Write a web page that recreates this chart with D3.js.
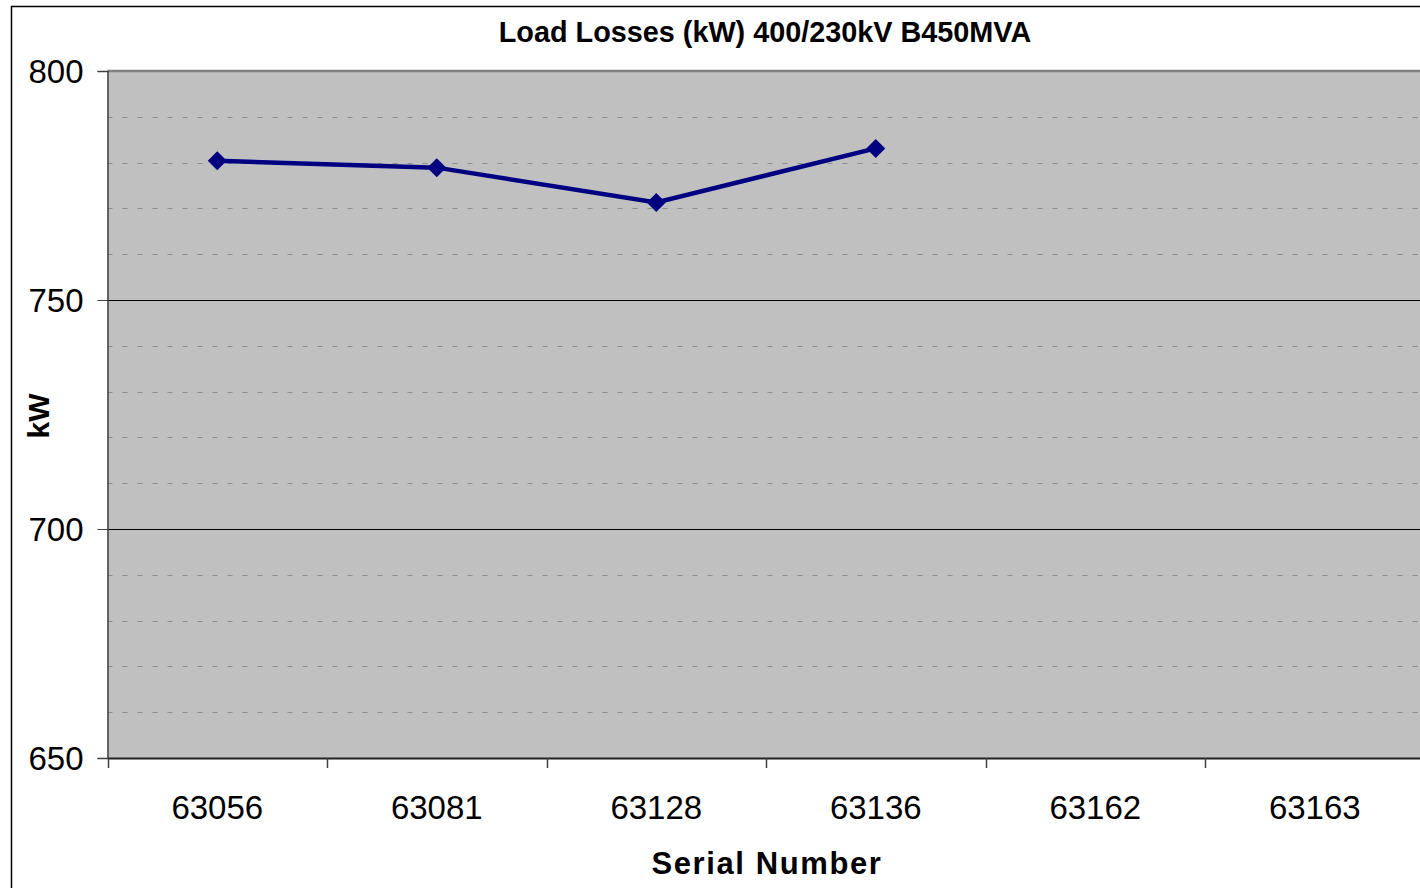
<!DOCTYPE html>
<html lang="en">
<head>
    <meta charset="UTF-8">
    <title>Load Losses</title>
    <script src="https://d3js.org/d3.v7.min.js"></script>
    <style>
        body {
            margin: 0;
            padding: 0;
            background-color: #ffffff;
            font-family: "Liberation Sans", Arial, sans-serif;
        }
        .title {
            font-size: 28.8px;
            font-weight: bold;
            text-anchor: middle;
        }
        .axis-label {
            font-size: 31px;
            font-weight: bold;
            text-anchor: middle;
        }
        .tick text {
            font-family: "Liberation Sans", Arial, sans-serif;
            font-size: 33px;
            fill: #000;
        }
    </style>
</head>
<body>
    <div id="chart"></div>
    <script>
        // Chart data
        const serials = ["63056", "63081", "63128", "63136", "63162", "63163"];
        const lossesKW = [780.4, 778.9, 771.3, 783.1, null, null];
        const yTicks = [650, 700, 750, 800];
        const yMinorTicks = [660, 670, 680, 690, 710, 720, 730, 740, 760, 770, 780, 790];

        const width = 1420;
        const height = 888;
        const plot = { left: 107.5, top: 71, right: 1424.5, bottom: 758 };

        const svg = d3.select("#chart")
            .append("svg")
            .attr("width", width)
            .attr("height", height);

        // outer chart border
        svg.append("rect")
            .attr("x", 11.5)
            .attr("y", 6.5)
            .attr("width", width + 10)
            .attr("height", height + 10)
            .attr("fill", "none")
            .attr("stroke", "#000")
            .attr("stroke-width", 1.5);

        const x = d3.scaleBand().domain(serials).range([plot.left, plot.right]);
        const y = d3.scaleLinear().domain([650, 800]).range([plot.bottom, plot.top]);

        // plot background
        svg.append("rect")
            .attr("x", plot.left)
            .attr("y", plot.top)
            .attr("width", plot.right - plot.left)
            .attr("height", plot.bottom - plot.top)
            .attr("fill", "#c0c0c0");

        // minor dashed grid
        svg.append("g")
            .selectAll("line")
            .data(yMinorTicks)
            .join("line")
            .attr("x1", plot.left)
            .attr("x2", plot.right)
            .attr("y1", d => Math.round(y(d)) + 0.5)
            .attr("y2", d => Math.round(y(d)) + 0.5)
            .attr("stroke", "#8c8c8c")
            .attr("stroke-width", 1)
            .attr("stroke-dasharray", "5,10");

        // major grid
        svg.append("g")
            .selectAll("line")
            .data([700, 750])
            .join("line")
            .attr("x1", plot.left)
            .attr("x2", plot.right)
            .attr("y1", d => Math.round(y(d)) + 0.5)
            .attr("y2", d => Math.round(y(d)) + 0.5)
            .attr("stroke", "#000")
            .attr("stroke-width", 1);

        // top border of plot area
        svg.append("line")
            .attr("x1", plot.left)
            .attr("x2", plot.right)
            .attr("y1", plot.top)
            .attr("y2", plot.top)
            .attr("stroke", "#808080")
            .attr("stroke-width", 2.5);

        // y axis
        const yAxis = d3.axisLeft(y).tickValues(yTicks).tickSize(10).tickPadding(14);
        const gy = svg.append("g")
            .attr("transform", `translate(${plot.left},0)`)
            .call(yAxis);
        gy.select(".domain").attr("stroke", "#404040").attr("stroke-width", 1.5);
        gy.selectAll(".tick line").attr("stroke", "#404040");
        gy.selectAll(".tick text").attr("dy", "0.36em");

        // x axis with ticks at category boundaries
        const xAxis = d3.axisBottom(x).tickSize(0).tickPadding(44);
        const gx = svg.append("g")
            .attr("transform", `translate(0,${plot.bottom})`)
            .call(xAxis);
        gx.select(".domain").attr("stroke", "#202020").attr("stroke-width", 2);
        gx.selectAll(".tick text").attr("dy", "0.5em");

        svg.append("g")
            .selectAll("line")
            .data(serials.concat(["end"]))
            .join("line")
            .attr("x1", (d, i) => Math.round(plot.left + i * x.bandwidth()) + 0.5)
            .attr("x2", (d, i) => Math.round(plot.left + i * x.bandwidth()) + 0.5)
            .attr("y1", plot.bottom)
            .attr("y2", plot.bottom + 10)
            .attr("stroke", "#404040")
            .attr("stroke-width", 1.5);

        // series line
        const pts = serials.map((s, i) => ({ s: s, v: lossesKW[i] })).filter(d => d.v !== null);
        const line = d3.line()
            .x(d => x(d.s) + x.bandwidth() / 2)
            .y(d => y(d.v));

        svg.append("path")
            .datum(pts)
            .attr("d", line)
            .attr("fill", "none")
            .attr("stroke", "#000080")
            .attr("stroke-width", 4.5);

        svg.append("g")
            .selectAll("path")
            .data(pts)
            .join("path")
            .attr("transform", d => `translate(${x(d.s) + x.bandwidth() / 2},${y(d.v)})`)
            .attr("d", d3.symbol().type(d3.symbolDiamond2).size(230))
            .attr("fill", "#000080");

        // title
        svg.append("text")
            .attr("class", "title")
            .attr("x", 765)
            .attr("y", 42)
            .text("Load Losses (kW) 400/230kV B450MVA");

        // axis titles
        svg.append("text")
            .attr("class", "axis-label")
            .attr("x", 767)
            .attr("y", 874)
            .attr("letter-spacing", "1.6px")
            .text("Serial Number");

        svg.append("text")
            .attr("class", "axis-label")
            .attr("transform", "translate(49,416) rotate(-90)")
            .style("font-size", "30px")
            .text("kW");
    </script>
</body>
</html>
